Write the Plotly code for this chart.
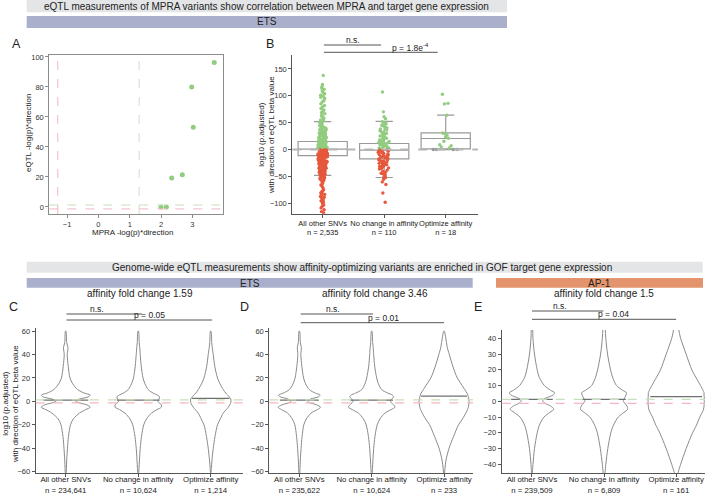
import plotly.graph_objects as go

W, H = 708, 494
FONT = "Liberation Sans, Arial, sans-serif"
TXT = "#222222"


def fx(p):
    return p / W


def fy(p):
    return 1 - p / H


# ---------------- Panel A data ----------------
A_MPRA = [2.0, 2.17, 2.34, 2.68, 2.98, 3.03, 3.7]
A_EQTL = [0.0, 0.0, 19.3, 21.5, 80.0, 53.2, 96.3]

# ---------------- Panel B data ----------------
B_CATS = ["All other SNVs", "No change in affinity", "Optimize affinity"]
B_N = ["2,535", "110", "18"]
B_Q1 = [-11.2, -17.5, 1.2]
B_MED = [0.8, -1.0, 20.6]
B_Q3 = [15.0, 11.3, 31.0]
B_LO = [-48.0, -52.0, 0.0]
B_HI = [52.0, 52.5, 64.0]

B_G1_POS = [0.3, 0.6, 0.8, 1.1, 1.4, 1.7, 1.9, 2.2, 2.3, 2.6, 2.9, 3.1, 3.4, 3.6, 3.9, 4.2, 4.6, 4.8,
            5.1, 5.4, 5.7, 6.0, 6.2, 6.5, 6.8, 7.3, 7.6, 7.9, 8.4, 8.8, 9.1, 9.7, 10.3, 10.6, 10.9,
            11.6, 12.2, 12.5, 12.8, 13.5, 14.1, 14.9, 15.2, 15.6, 16.2, 17.0, 17.7, 18.0, 18.4, 19.2,
            19.9, 20.7, 21.5, 22.0, 22.3, 23.1, 24.0, 24.8, 25.7, 26.0, 26.6, 27.5, 28.4, 29.4, 30.0,
            30.3, 31.3, 32.4, 33.4, 34.5, 35.0, 35.6, 36.7, 37.9, 39.1, 40.0, 40.3, 41.6, 42.9, 44.2,
            45.0, 45.6, 47.0, 48.5, 50.0, 51.6, 53.2, 54.9, 56.7, 58.5, 60.4, 62.4, 64.5, 66.7, 69.0,
            71.4, 73.9, 76.5, 79.3, 82.0, 85.1, 88.4, 90.6, 93.0, 95.8, 97.2, 99.5, 101.3, 103.8,
            106.0, 109.5, 112.1, 114.8, 117.6, 121.0, 138.0]
B_G1_NEG = [-0.4, -0.7, -0.9, -1.2, -1.5, -1.8, -2.0, -2.3, -2.6, -2.9, -3.2, -3.5, -3.7, -4.0, -4.3,
            -4.6, -4.9, -5.2, -5.5, -5.8, -6.1, -6.4, -6.7, -7.0, -7.4, -7.7, -8.0, -8.4, -8.7, -9.0,
            -9.4, -9.8, -10.1, -10.5, -10.8, -11.2, -11.6, -12.0, -12.3, -12.7, -13.1, -13.5, -13.9,
            -14.3, -14.7, -15.2, -15.6, -16.0, -16.4, -16.9, -17.3, -17.8, -18.2, -18.7, -19.2, -19.7,
            -20.1, -20.6, -21.1, -21.6, -22.1, -22.7, -23.2, -23.7, -24.2, -24.8, -25.3, -26.0, -26.5,
            -27.0, -27.6, -28.2, -28.8, -29.4, -30.1, -30.7, -31.3, -32.0, -32.6, -33.3, -34.0, -34.7,
            -35.4, -36.1, -36.8, -37.6, -38.3, -39.0, -39.8, -40.6, -41.4, -42.2, -43.0, -43.8, -44.7,
            -45.5, -46.4, -47.3, -48.2, -49.1, -50.1, -51.0, -52.0, -53.0, -54.0, -55.0, -56.1, -57.2,
            -58.3, -60.6, -63.0, -65.8, -68.5, -71.0, -74.8, -77.2, -78.2, -80.9, -82.4, -83.5, -86.0,
            -87.3, -88.7, -91.2, -93.8, -95.5, -96.7, -97.9, -100.4, -103.1, -105.7, -108.6, -112.0,
            -115.5, -118.0]
B_G2_POS = [0.5, 1.5, 2.5, 3.2, 4.1, 5.0, 6.2, 7.1, 8.3, 9.0, 10.2, 11.5, 12.4, 13.3, 14.6, 15.2,
            16.5, 18.1, 19.3, 20.4, 21.2, 22.8, 24.1, 25.3, 27.0, 28.2, 30.1, 32.4, 33.2, 35.5, 36.3,
            38.2, 40.4, 42.1, 44.3, 45.2, 47.6, 48.4, 50.2, 52.0, 57.3, 61.0, 70.2, 107.0]
B_G2_NEG = [-0.5, -1.4, -2.1, -3.0, -4.2, -5.1, -6.0, -7.2, -8.1, -9.3, -10.0, -11.2, -12.1, -13.4,
            -14.0, -15.3, -16.2, -17.0, -18.4, -19.1, -20.3, -21.0, -22.5, -23.1, -24.2, -25.4, -26.0,
            -27.3, -28.1, -29.5, -30.2, -31.4, -32.3, -34.1, -35.0, -36.3, -38.2, -40.1, -42.3, -44.0,
            -45.2, -47.1, -50.3, -52.0, -55.4, -60.2, -65.0, -81.0, -98.0]
B_G3_POS = [103.0, 86.0, 85.0, 64.0, 31.0, 30.0, 27.0, 24.0, 21.0, 15.5, 9.0, 7.0, 5.0, 3.0]
B_G3_ZERO = [0.0, 0.0, 0.0, 0.0]

# ---------------- Panels C-E (violin profiles) ----------------
CD_LEVELS = [-61, -50, -40, -30, -20, -15, -10, -7, -5, -3, -1, 0.5, 2, 4, 5.5, 7, 10, 15, 20, 30, 40, 46, 50, 60]
C_DENS = [
    [0.02, 0.04, 0.07, 0.11, 0.19, 0.30, 0.55, 0.80, 0.98, 0.85, 0.50, 0.38, 0.55, 0.92, 0.97, 0.75, 0.48, 0.28, 0.17, 0.10, 0.06, 0.09, 0.04, 0.01],
    [0.02, 0.05, 0.08, 0.13, 0.22, 0.33, 0.53, 0.75, 0.92, 0.93, 0.82, 0.78, 0.83, 0.85, 0.75, 0.60, 0.40, 0.27, 0.19, 0.12, 0.08, 0.06, 0.04, 0.01],
    [0.01, 0.05, 0.10, 0.17, 0.27, 0.38, 0.50, 0.62, 0.70, 0.76, 0.80, 0.81, 0.80, 0.73, 0.67, 0.60, 0.50, 0.37, 0.27, 0.16, 0.10, 0.06, 0.04, 0.01],
]
D_DENS = [
    [0.02, 0.04, 0.07, 0.11, 0.18, 0.28, 0.47, 0.72, 0.85, 0.70, 0.40, 0.33, 0.45, 0.78, 0.83, 0.65, 0.40, 0.25, 0.17, 0.10, 0.06, 0.08, 0.04, 0.01],
    [0.02, 0.05, 0.08, 0.13, 0.22, 0.33, 0.53, 0.78, 0.93, 0.88, 0.78, 0.75, 0.80, 0.88, 0.82, 0.65, 0.40, 0.27, 0.20, 0.12, 0.08, 0.06, 0.04, 0.01],
    [0.02, 0.08, 0.20, 0.38, 0.58, 0.74, 0.87, 0.94, 0.97, 0.99, 1.00, 1.00, 0.99, 0.97, 0.95, 0.92, 0.83, 0.68, 0.53, 0.35, 0.21, 0.13, 0.10, 0.01],
]
E_LEVELS = [-50, -45, -40, -30, -20, -15, -10, -7, -5, -3, -1, 0.5, 2, 4, 5.5, 7, 10, 15, 20, 30, 40, 46, 50]
E_DENS = [
    [0.01, 0.02, 0.04, 0.10, 0.21, 0.30, 0.48, 0.72, 0.88, 0.75, 0.50, 0.43, 0.55, 0.85, 0.91, 0.75, 0.50, 0.30, 0.21, 0.10, 0.04, 0.03, 0.02],
    [0.01, 0.04, 0.07, 0.15, 0.27, 0.38, 0.57, 0.80, 0.95, 0.92, 0.82, 0.77, 0.82, 0.88, 0.90, 0.75, 0.50, 0.35, 0.26, 0.14, 0.07, 0.05, 0.04],
    [0.01, 0.08, 0.18, 0.40, 0.66, 0.82, 0.95, 1.05, 1.10, 1.12, 1.13, 1.13, 1.13, 1.12, 1.12, 1.08, 0.98, 0.80, 0.63, 0.40, 0.18, 0.10, 0.08],
]
C_MED = [1.0, 1.0, 2.5]
D_MED = [1.0, 1.0, 4.5]
E_MED = [1.2, 1.2, 3.0]
C_N = ["234,641", "10,624", "1,214"]
D_N = ["235,622", "10,624", "233"]
E_N = ["239,509", "6,809", "161"]
FOLD = ["affinity fold change 1.59", "affinity fold change 3.46", "affinity fold change 1.5"]
PVALS = ["p = 0.05", "p = 0.01", "p = 0.04"]

GREEN = "#92cd7f"
RED = "#e6573c"
VCOL = "#8a8a8a"
AXC = "#555555"

fig = go.Figure()

# ---- A ----
fig.add_trace(go.Scatter(x=A_MPRA, y=A_EQTL, mode="markers", xaxis="x", yaxis="y",
                         marker=dict(color=GREEN, size=5), showlegend=False))

# ---- B ----
fig.add_trace(go.Box(x=[0, 1, 2], q1=B_Q1, median=B_MED, q3=B_Q3, lowerfence=B_LO, upperfence=B_HI,
                     width=0.8, whiskerwidth=0.35, boxpoints=False, fillcolor="rgba(0,0,0,0)",
                     line=dict(color="#9a9a9a", width=1.2), xaxis="x2", yaxis="y2", showlegend=False))
point_sets = [(0, B_G1_POS, GREEN, 0.2), (0, B_G1_NEG, RED, 0.2),
              (1, B_G2_POS, GREEN, 0.25), (1, B_G2_NEG, RED, 0.25),
              (2, B_G3_POS, GREEN, 0.3), (2, B_G3_ZERO, "#9a9a9a", 0.6)]
for pos, vals, col, jit in point_sets:
    fig.add_trace(go.Box(x=[pos] * len(vals), y=vals, boxpoints="all", jitter=jit, pointpos=0,
                         width=0.8, whiskerwidth=0, fillcolor="rgba(0,0,0,0)",
                         line=dict(width=0, color="rgba(0,0,0,0)"),
                         marker=dict(color=col, size=3.4), xaxis="x2", yaxis="y2",
                         showlegend=False, hoverinfo="y"))

# ---- C, D, E violins ----
S = 0.345
panels = [("x3", "y3", CD_LEVELS, C_DENS, C_MED),
          ("x4", "y4", CD_LEVELS, D_DENS, D_MED),
          ("x5", "y5", E_LEVELS, E_DENS, E_MED)]
for xa, ya, lev, dens, meds in panels:
    for i in range(3):
        d = dens[i]
        xs = [i + v * S for v in d] + [i - v * S for v in reversed(d)]
        ys = list(lev) + list(reversed(lev))
        fig.add_trace(go.Scatter(x=xs, y=ys, mode="lines", line=dict(color=VCOL, width=1, shape="spline", smoothing=0.8),
                                 xaxis=xa, yaxis=ya, showlegend=False, hoverinfo="skip"))
        hw = max(d) * S * 0.92
        fig.add_trace(go.Scatter(x=[i - hw, i + hw], y=[meds[i], meds[i]], mode="lines",
                                 line=dict(color="#707070", width=1.3), xaxis=xa, yaxis=ya,
                                 showlegend=False, hoverinfo="skip"))

shapes = []
annotations = []


def rect(x0, x1, y0, y1, color):
    shapes.append(dict(type="rect", xref="paper", yref="paper", x0=fx(x0), x1=fx(x1), y0=fy(y1), y1=fy(y0),
                       fillcolor=color, line=dict(width=0), layer="below"))


def text(x, y, s, size=10, angle=0, xanchor="center", yanchor="middle", color=TXT):
    annotations.append(dict(x=fx(x), y=fy(y), xref="paper", yref="paper", text=s, showarrow=False,
                            font=dict(size=size, color=color, family=FONT), textangle=angle,
                            xanchor=xanchor, yanchor=yanchor))


GRAYBAN = "#e4e5e7"
ETSC = "#aab0cb"
AP1C = "#e3946c"

# banners top
rect(26.7, 507, 0, 12.3, GRAYBAN)
rect(26.7, 507, 16, 28, ETSC)
text(266.5, 6.5, "eQTL measurements of MPRA variants show correlation between MPRA and target gene expression", 10)
text(266.5, 22, "ETS", 10)
# banners bottom
rect(26.7, 702.7, 261.7, 272.7, GRAYBAN)
rect(26.7, 472.7, 278, 287.7, ETSC)
rect(496, 703, 278, 287.7, AP1C)
text(362, 267.3, "Genome-wide eQTL measurements show affinity-optimizing variants are enriched in GOF target gene expression", 10)
text(249.7, 283, "ETS", 10)
text(599.5, 283, "AP-1", 10)

# panel letters
text(16, 44, "A", 12.5)
text(270, 44, "B", 12.5)
text(13, 307, "C", 12.5)
text(244, 307, "D", 12.5)
text(478, 307, "E", 12.5)

# A axis titles
text(29, 133, "eQTL -log(p)*direction", 8, angle=-90)
text(132, 232, "MPRA -log(p)*direction", 8)
# A reference lines
for val, col in [(-1.3, "#f3b7c3"), (1.3, "#d3dccd")]:
    shapes.append(dict(type="line", xref="x", yref="y domain", x0=val, x1=val, y0=0, y1=1,
                       line=dict(color=col, width=1, dash="dash")))
for val, col in [(1.3, "#c6e0bb"), (-1.3, "#f3b7c3")]:
    shapes.append(dict(type="line", xref="x domain", yref="y", x0=0, x1=1, y0=val, y1=val,
                       line=dict(color=col, width=1, dash="dash")))

# B
text(266, 135, "log10 (p.adjusted)<br>with direction of eQTL beta value", 8, angle=-90)
shapes.append(dict(type="line", xref="x2 domain", yref="y2", x0=0, x1=1, y0=0, y1=0,
                   line=dict(color="#b5b5b5", width=2, dash="dash")))


def bracket(xa, x0, x1, y, xt, yt, s):
    shapes.append(dict(type="line", xref=xa, yref="paper", x0=x0, x1=x1, y0=fy(y), y1=fy(y),
                       line=dict(color="#555555", width=1)))
    text(xt, yt, s, 8.5)


bracket("x2", 0.02, 0.95, 45, 353, 40, "n.s.")
bracket("x2", 0.02, 1.87, 52.3, 410, 47.3, "p = 1.8e<sup>-4</sup>")

# C-E
text(10, 404, "log10 (p.adjusted)<br>with direction of eQTL beta value", 8, angle=-90)
fold_x = [139.5, 375.5, 604]
for k, (xa, ya) in enumerate([("x3", "y3"), ("x4", "y4"), ("x5", "y5")]):
    text(fold_x[k], 293.5, FOLD[k], 10)
    for val, col in [(1.3, "#c6e0bb"), (-1.3, "#f3b7c3")]:
        shapes.append(dict(type="line", xref=xa + " domain", yref=ya, x0=0, x1=1, y0=val, y1=val,
                           line=dict(color=col, width=1.3, dash="dash")))

bracket("x3", 0.01, 1.05, 314, 97, 308.5, "n.s.")
bracket("x3", 0.01, 2.02, 320, 149, 315, PVALS[0])
bracket("x4", 0.02, 1.02, 314, 333, 308.5, "n.s.")
bracket("x4", 0.02, 2.0, 322.7, 383, 317.5, PVALS[1])
bracket("x5", 0.0, 0.99, 311, 560, 305.5, "n.s.")
bracket("x5", 0.0, 2.0, 319.3, 613, 314.3, PVALS[2])

tickfont = dict(size=7.5, color="#333333", family=FONT)
catfont = dict(size=7.8, color="#222222", family=FONT)
catfont_b = dict(size=7.5, color="#222222", family=FONT)


def cat_labels(ns):
    return [f"{c}<br>n = {n}" for c, n in zip(B_CATS, ns)]


common_ax = dict(showgrid=False, zeroline=False, showline=True, linecolor=AXC, linewidth=1,
                 ticks="outside", ticklen=3, tickcolor=AXC, tickwidth=1)
cat_ax_b = dict(common_ax, tickangle=0, ticklabelstandoff=-1)
cat_ax = dict(common_ax, tickangle=0, ticklabelstandoff=-4)

layout = dict(
    width=W, height=H, margin=dict(l=0, r=0, t=0, b=0, autoexpand=False),
    paper_bgcolor="white", plot_bgcolor="white", boxmode="overlay",
    font=dict(family=FONT, color=TXT), showlegend=False,
    shapes=shapes, annotations=annotations,
    xaxis=dict(common_ax, domain=[fx(49.3), fx(222.7)], range=[-1.57, 3.97], tickvals=[-1, 0, 1, 2, 3],
               mirror=True, linecolor="#8c8c8c", tickcolor="#8c8c8c", anchor="y", tickfont=tickfont),
    yaxis=dict(common_ax, domain=[fy(214), fy(55)], range=[-4.7, 101.3], tickvals=[0, 20, 40, 60, 80, 100],
               mirror=True, linecolor="#8c8c8c", tickcolor="#8c8c8c", anchor="x", tickfont=tickfont),
    xaxis2=dict(cat_ax_b, domain=[fx(292.3), fx(478)], range=[-0.494, 2.525], tickvals=[0, 1, 2],
                ticktext=cat_labels(B_N), anchor="y2", tickfont=catfont_b),
    yaxis2=dict(common_ax, domain=[fy(213.7), fy(55)], range=[-119.4, 176],
                tickvals=[-100, -50, 0, 50, 100, 150], anchor="x2", tickfont=tickfont),
    xaxis3=dict(cat_ax, domain=[fx(35.7), fx(243)], range=[-0.414, 2.445], tickvals=[0, 1, 2],
                ticktext=cat_labels(C_N), anchor="y3", tickfont=catfont),
    yaxis3=dict(common_ax, domain=[fy(473), fy(328)], range=[-61.1, 62.6],
                tickvals=[-60, -40, -20, 0, 20, 40, 60], anchor="x3", tickfont=tickfont),
    xaxis4=dict(cat_ax, domain=[fx(269.3), fx(473)], range=[-0.415, 2.40], tickvals=[0, 1, 2],
                ticktext=cat_labels(D_N), anchor="y4", tickfont=catfont),
    yaxis4=dict(common_ax, domain=[fy(473), fy(328)], range=[-61.1, 62.6],
                tickvals=[-60, -40, -20, 0, 20, 40, 60], anchor="x4", tickfont=tickfont),
    xaxis5=dict(cat_ax, domain=[fx(501.7), fx(705)], range=[-0.42, 2.40], tickvals=[0, 1, 2],
                ticktext=cat_labels(E_N), anchor="y5", tickfont=catfont),
    yaxis5=dict(common_ax, domain=[fy(473), fy(330)], range=[-45.5, 45.3],
                tickvals=[-40, -30, -20, -10, 0, 10, 20, 30, 40], anchor="x5", tickfont=tickfont),
)
fig.update_layout(**layout)
fig.write_html("out.html", config={"displayModeBar": False},
               post_script="document.body.style.margin='0';document.body.style.overflow='hidden';")
